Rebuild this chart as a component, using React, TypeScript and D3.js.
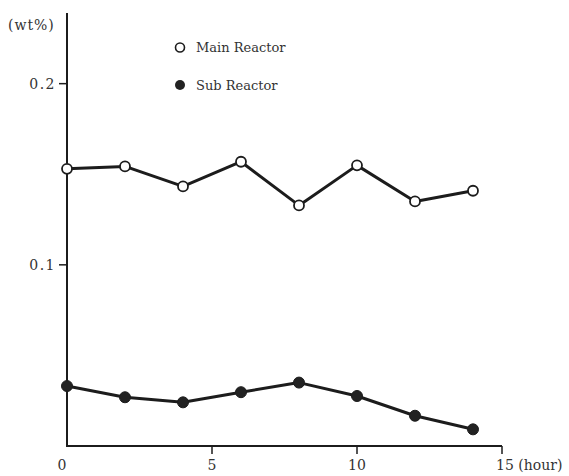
import React from "react";
import * as d3 from "d3";

const hours = [0, 2, 4, 6, 8, 10, 12, 14];
const mainReactor = [0.153, 0.1543, 0.1433, 0.1569, 0.1328, 0.1549, 0.135, 0.1409];
const subReactor = [0.0331, 0.0269, 0.0241, 0.0297, 0.035, 0.0276, 0.0167, 0.0092];
const xTicks = [0, 5, 10, 15];
const yTicks = [0.1, 0.2];
const seriesNames = ["Main Reactor", "Sub Reactor"];

const W = 569;
const H = 476;
const FONT = "'DejaVu Serif', serif";
const INK = "#1c1c1c";

export default function App() {
  const x = d3.scaleLinear().domain([0, 15]).range([67, 502]);
  const y = d3.scaleLinear().domain([0, 0.239]).range([446, 13]);
  const line = d3
    .line<number>()
    .x((_, i) => x(hours[i]))
    .y((d) => y(d));

  return (
    <svg
      width={W}
      height={H}
      style={{ position: "absolute", left: 0, top: 0, background: "#fff" }}
    >
      {/* axes */}
      <line x1={x(0)} x2={x(0)} y1={y(0.239)} y2={y(0) + 1} stroke={INK} strokeWidth={2} />
      <line x1={x(0) - 1} x2={x(15)} y1={y(0)} y2={y(0)} stroke={INK} strokeWidth={2} />
      {yTicks.map((t) => (
        <g key={"y" + t}>
          <line x1={x(0) - 8} x2={x(0)} y1={y(t)} y2={y(t)} stroke={INK} strokeWidth={1.5} />
          <text
            x={x(0) - 11}
            y={y(t)}
            dy="0.35em"
            textAnchor="end"
            fontFamily={FONT}
            fontSize={14}
            letterSpacing={1.5}
            fill="#333"
          >
            {d3.format(".1f")(t)}
          </text>
        </g>
      ))}
      {xTicks.map((t) => (
        <g key={"x" + t}>
          {t > 0 && (
            <line x1={x(t)} x2={x(t)} y1={y(0)} y2={y(0) + 8} stroke={INK} strokeWidth={1.5} />
          )}
          <text
            x={t === 0 ? x(t) - 5 : x(t)}
            y={470}
            textAnchor={t === 15 ? "start" : "middle"}
            dx={t === 15 ? -6 : 0}
            fontFamily={FONT}
            fontSize={14}
            fill="#333"
          >
            {t === 15 ? "15 (hour)" : String(t)}
          </text>
        </g>
      ))}
      <text x={8} y={30} fontFamily={FONT} fontSize={14} letterSpacing={1} fill="#333">
        (wt%)
      </text>

      {/* series */}
      <path d={line(subReactor) || ""} fill="none" stroke={INK} strokeWidth={3} strokeLinejoin="round" />
      <path d={line(mainReactor) || ""} fill="none" stroke={INK} strokeWidth={3} strokeLinejoin="round" />
      {subReactor.map((v, i) => (
        <circle key={"s" + i} cx={x(hours[i])} cy={y(v)} r={5.5} fill="#222" stroke={INK} strokeWidth={1} />
      ))}
      {mainReactor.map((v, i) => (
        <circle key={"m" + i} cx={x(hours[i])} cy={y(v)} r={5} fill="#fff" stroke={INK} strokeWidth={1.8} />
      ))}

      {/* legend */}
      <circle cx={180} cy={47.5} r={4.5} fill="#fff" stroke={INK} strokeWidth={1.6} />
      <text x={196} y={52} fontFamily={FONT} fontSize={13} fill="#333">
        {seriesNames[0]}
      </text>
      <circle cx={180} cy={85} r={5} fill="#222" />
      <text x={196} y={89.5} fontFamily={FONT} fontSize={13} fill="#333">
        {seriesNames[1]}
      </text>
    </svg>
  );
}
